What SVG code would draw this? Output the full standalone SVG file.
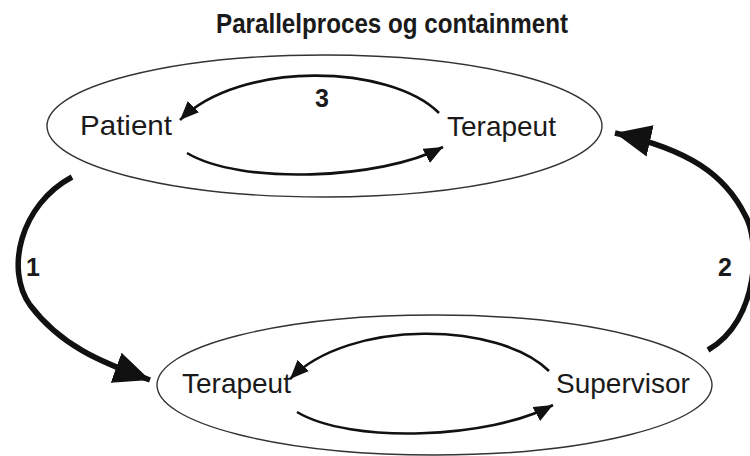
<svg xmlns="http://www.w3.org/2000/svg" width="750" height="456" viewBox="0 0 750 456">
<style>
.title{font-family:"Liberation Sans Narrow","Liberation Sans",Arial,sans-serif;font-weight:bold;font-size:28px;fill:#1a1a1a}
.num{font-family:"Liberation Sans Narrow","Liberation Sans",Arial,sans-serif;font-weight:bold;font-size:25px;fill:#1a1a1a}
.lbl{font-family:"Liberation Sans",Arial,sans-serif;font-size:28px;fill:#1a1a1a}
.ell{fill:#fff;stroke:#333;stroke-width:1.4}
.arc{fill:none;stroke:#111;stroke-width:2.6}
.big{fill:none;stroke:#111;stroke-width:5.5}
</style>
<defs>
<marker id="ah" markerUnits="userSpaceOnUse" markerWidth="22" markerHeight="18" refX="19" refY="8" orient="auto">
<path d="M0,0 L19,8 L0,16 Z" fill="#111"/>
</marker>
<marker id="bh" markerUnits="userSpaceOnUse" markerWidth="40" markerHeight="34" refX="36" refY="16" orient="auto">
<path d="M0,0 L36,16 L0,32 Z" fill="#111"/>
</marker>
</defs>
<rect width="750" height="456" fill="#fff"/>
<text class="title" x="392" y="33" text-anchor="middle" textLength="352" lengthAdjust="spacingAndGlyphs">Parallelproces og containment</text>
<g id="top-ellipse">
<ellipse class="ell" cx="324.5" cy="126" rx="277.5" ry="71"/>
</g>
<g id="bottom-ellipse">
<ellipse class="ell" cx="434.5" cy="385" rx="277.5" ry="70"/>
</g>
<g id="patient"><text class="lbl" x="80" y="135" textLength="92" lengthAdjust="spacingAndGlyphs">Patient</text></g>
<g id="terapeut-top"><text class="lbl" x="447" y="136">Terapeut</text></g>
<g id="terapeut-bottom"><text class="lbl" x="182" y="393">Terapeut</text></g>
<g id="supervisor"><text class="lbl" x="556" y="393">Supervisor</text></g>
<g id="connectors">
<path class="arc" d="M439,113 C390,64 240,60 180,120" marker-end="url(#ah)"/>
<path class="arc" d="M187,153 C240,185 380,180 443,147" marker-end="url(#ah)"/>
<path class="arc" d="M549,371 C500,322 350,318 290,379" marker-end="url(#ah)"/>
<path class="arc" d="M297,412 C350,444 490,439 553,405" marker-end="url(#ah)"/>
<path class="big" d="M72,177 C20,205 5,270 30,305 C60,345 100,362 150,380" marker-end="url(#bh)"/>
<path class="big" d="M708,350 C760,320 760,240 745,215 C725,175 690,150 615,133" marker-end="url(#bh)"/>
</g>
<text class="num" x="322" y="107" text-anchor="middle">3</text>
<text class="num" x="33" y="276" text-anchor="middle">1</text>
<text class="num" x="725" y="276" text-anchor="middle">2</text>
</svg>
